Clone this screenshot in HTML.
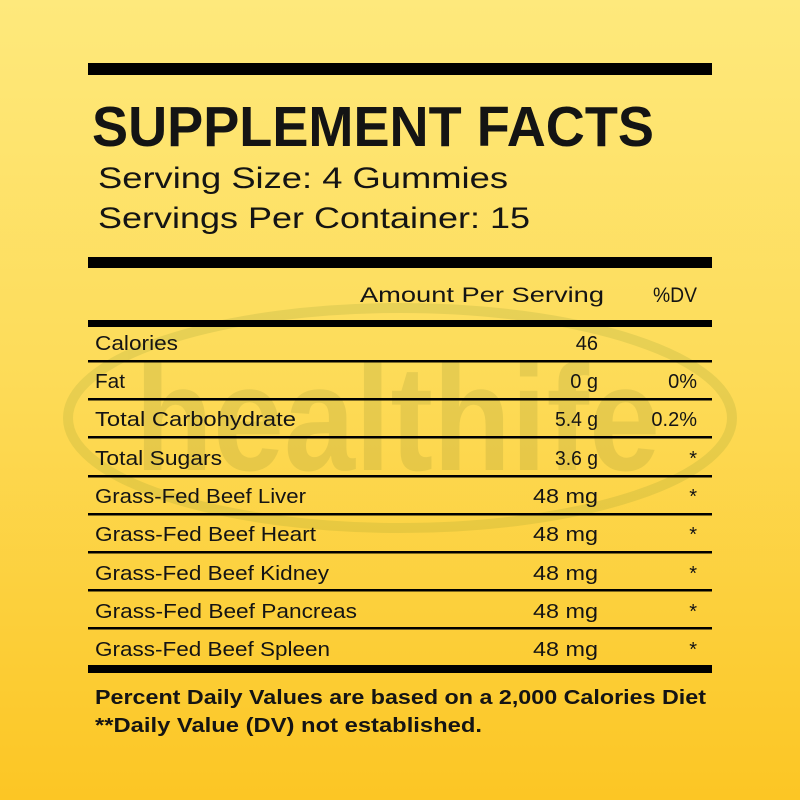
<!DOCTYPE html>
<html><head><meta charset="utf-8"><style>
html,body{margin:0;padding:0;}
body{width:800px;height:800px;overflow:hidden;background:linear-gradient(#fee97c,#fddc5a 45%,#fcc624);}
svg{display:block}
text{font-family:"Liberation Sans",sans-serif;fill:#141414}
</style></head><body>
<svg width="800" height="800" viewBox="0 0 800 800">
<g opacity="0.15">
<ellipse cx="400" cy="418" rx="332" ry="110" fill="none" stroke="#6f8a2a" stroke-width="10"/>
<text x="135" y="470" font-size="150" font-weight="bold" textLength="525" lengthAdjust="spacingAndGlyphs" style="fill:#6f7a2a">healthife</text>
</g>
<rect x="88" y="63" width="624" height="12" fill="#000"/>
<text x="92" y="146" font-size="57" font-weight="bold" textLength="562" lengthAdjust="spacingAndGlyphs">SUPPLEMENT FACTS</text>
<text x="98" y="188" font-size="30" textLength="410" lengthAdjust="spacingAndGlyphs">Serving Size: 4 Gummies</text>
<text x="98" y="228" font-size="30" textLength="432" lengthAdjust="spacingAndGlyphs">Servings Per Container: 15</text>
<rect x="88" y="257" width="624" height="11" fill="#000"/>
<text x="360" y="302" font-size="21" textLength="244" lengthAdjust="spacingAndGlyphs">Amount Per Serving</text>
<text x="653" y="302" font-size="21" textLength="44" lengthAdjust="spacingAndGlyphs">%DV</text>
<rect x="88" y="320" width="624" height="7" fill="#000"/>
<g font-size="20" lengthAdjust="spacingAndGlyphs">
<text x="95" y="350" textLength="83" lengthAdjust="spacingAndGlyphs">Calories</text><text x="598" y="350" text-anchor="end">46</text>
<text x="95" y="388" textLength="30" lengthAdjust="spacingAndGlyphs">Fat</text><text x="598" y="388" text-anchor="end">0 g</text><text x="697" y="388" text-anchor="end">0%</text>
<text x="95" y="426" textLength="201" lengthAdjust="spacingAndGlyphs">Total Carbohydrate</text><text x="555" y="426" textLength="43" lengthAdjust="spacingAndGlyphs">5.4 g</text><text x="697" y="426" text-anchor="end">0.2%</text>
<text x="95" y="465" textLength="127" lengthAdjust="spacingAndGlyphs">Total Sugars</text><text x="555" y="465" textLength="43" lengthAdjust="spacingAndGlyphs">3.6 g</text><text x="697" y="465" text-anchor="end">*</text>
<text x="95" y="503" textLength="211" lengthAdjust="spacingAndGlyphs">Grass-Fed Beef Liver</text><text x="533" y="503" textLength="65" lengthAdjust="spacingAndGlyphs">48 mg</text><text x="697" y="503" text-anchor="end">*</text>
<text x="95" y="541" textLength="221" lengthAdjust="spacingAndGlyphs">Grass-Fed Beef Heart</text><text x="533" y="541" textLength="65" lengthAdjust="spacingAndGlyphs">48 mg</text><text x="697" y="541" text-anchor="end">*</text>
<text x="95" y="580" textLength="234" lengthAdjust="spacingAndGlyphs">Grass-Fed Beef Kidney</text><text x="533" y="580" textLength="65" lengthAdjust="spacingAndGlyphs">48 mg</text><text x="697" y="580" text-anchor="end">*</text>
<text x="95" y="618" textLength="262" lengthAdjust="spacingAndGlyphs">Grass-Fed Beef Pancreas</text><text x="533" y="618" textLength="65" lengthAdjust="spacingAndGlyphs">48 mg</text><text x="697" y="618" text-anchor="end">*</text>
<text x="95" y="656" textLength="235" lengthAdjust="spacingAndGlyphs">Grass-Fed Beef Spleen</text><text x="533" y="656" textLength="65" lengthAdjust="spacingAndGlyphs">48 mg</text><text x="697" y="656" text-anchor="end">*</text>
</g>
<g fill="#000">
<rect x="88" y="360" width="624" height="2.5"/>
<rect x="88" y="398" width="624" height="2.5"/>
<rect x="88" y="436" width="624" height="2.5"/>
<rect x="88" y="475" width="624" height="2.5"/>
<rect x="88" y="513" width="624" height="2.5"/>
<rect x="88" y="551" width="624" height="2.5"/>
<rect x="88" y="589" width="624" height="2.5"/>
<rect x="88" y="627" width="624" height="2.5"/>
<rect x="88" y="665" width="624" height="8"/>
</g>
<text x="95" y="704" font-size="20" font-weight="bold" textLength="611" lengthAdjust="spacingAndGlyphs">Percent Daily Values are based on a 2,000 Calories Diet</text>
<text x="95" y="732" font-size="20" font-weight="bold" textLength="387" lengthAdjust="spacingAndGlyphs">**Daily Value (DV) not established.</text>
</svg>
</body></html>
